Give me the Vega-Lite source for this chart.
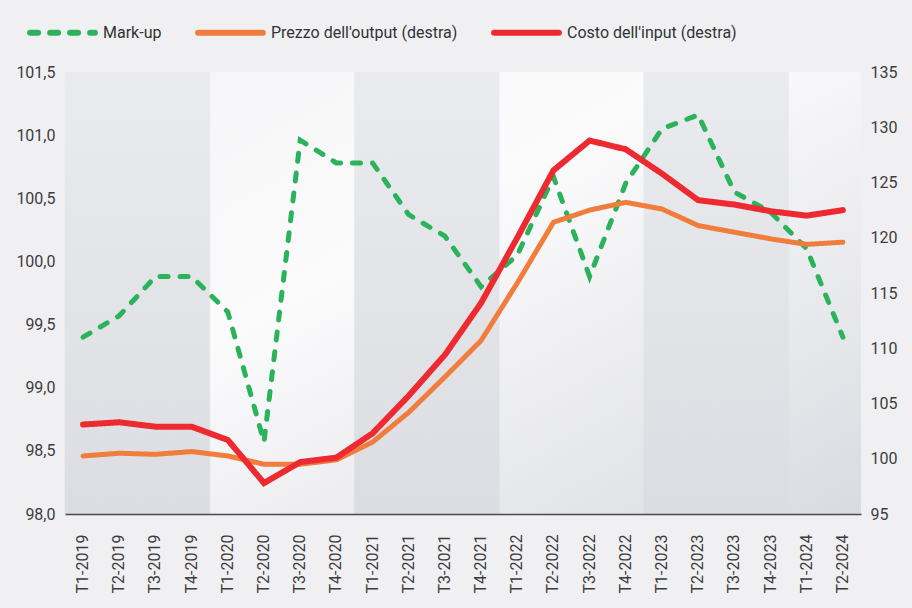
{
  "$schema": "https://vega.github.io/schema/vega-lite/v6.json",
  "autosize": {"type": "none"},
  "width": 796,
  "height": 442,
  "padding": {"left": 65, "top": 72, "right": 51, "bottom": 94},
  "background": "#f0f0f3",
  "config": {
    "locale": {"number": {"decimal": ",", "thousands": ".", "grouping": [3], "currency": ["€", ""]}},
    "font": "Roboto",
    "view": {"stroke": null},
    "axis": {"labelFont": "Roboto", "labelFontSize": 16, "labelColor": "#3d3d3d", "grid": false, "ticks": false, "title": null}
  },
  "view": {
    "stroke": null,
    "fill": {"gradient": "linear", "x1": 0, "y1": 0, "x2": 1, "y2": 1, "stops": [{"offset": 0, "color": "#f4f4f6"}, {"offset": 0.4, "color": "#fbfbfc"}, {"offset": 1, "color": "#dadbe1"}]}
  },
  "data": {"values": [
    {"t": "T1-2019", "serie": "Mark-up", "valore": 99.4},
    {"t": "T2-2019", "serie": "Mark-up", "valore": 99.57},
    {"t": "T3-2019", "serie": "Mark-up", "valore": 99.88},
    {"t": "T4-2019", "serie": "Mark-up", "valore": 99.88},
    {"t": "T1-2020", "serie": "Mark-up", "valore": 99.6},
    {"t": "T2-2020", "serie": "Mark-up", "valore": 98.57},
    {"t": "T3-2020", "serie": "Mark-up", "valore": 100.96},
    {"t": "T4-2020", "serie": "Mark-up", "valore": 100.78},
    {"t": "T1-2021", "serie": "Mark-up", "valore": 100.78},
    {"t": "T2-2021", "serie": "Mark-up", "valore": 100.37},
    {"t": "T3-2021", "serie": "Mark-up", "valore": 100.2},
    {"t": "T4-2021", "serie": "Mark-up", "valore": 99.8},
    {"t": "T1-2022", "serie": "Mark-up", "valore": 100.05},
    {"t": "T2-2022", "serie": "Mark-up", "valore": 100.67},
    {"t": "T3-2022", "serie": "Mark-up", "valore": 99.88},
    {"t": "T4-2022", "serie": "Mark-up", "valore": 100.62},
    {"t": "T1-2023", "serie": "Mark-up", "valore": 101.05},
    {"t": "T2-2023", "serie": "Mark-up", "valore": 101.16},
    {"t": "T3-2023", "serie": "Mark-up", "valore": 100.55},
    {"t": "T4-2023", "serie": "Mark-up", "valore": 100.39},
    {"t": "T1-2024", "serie": "Mark-up", "valore": 100.1},
    {"t": "T2-2024", "serie": "Mark-up", "valore": 99.4},
    {"t": "T1-2019", "serie": "Prezzo dell'output (destra)", "valore": 100.25},
    {"t": "T2-2019", "serie": "Prezzo dell'output (destra)", "valore": 100.5},
    {"t": "T3-2019", "serie": "Prezzo dell'output (destra)", "valore": 100.4},
    {"t": "T4-2019", "serie": "Prezzo dell'output (destra)", "valore": 100.65},
    {"t": "T1-2020", "serie": "Prezzo dell'output (destra)", "valore": 100.25},
    {"t": "T2-2020", "serie": "Prezzo dell'output (destra)", "valore": 99.5},
    {"t": "T3-2020", "serie": "Prezzo dell'output (destra)", "valore": 99.5},
    {"t": "T4-2020", "serie": "Prezzo dell'output (destra)", "valore": 99.9},
    {"t": "T1-2021", "serie": "Prezzo dell'output (destra)", "valore": 101.5},
    {"t": "T2-2021", "serie": "Prezzo dell'output (destra)", "valore": 104.2},
    {"t": "T3-2021", "serie": "Prezzo dell'output (destra)", "valore": 107.4},
    {"t": "T4-2021", "serie": "Prezzo dell'output (destra)", "valore": 110.7},
    {"t": "T1-2022", "serie": "Prezzo dell'output (destra)", "valore": 115.9},
    {"t": "T2-2022", "serie": "Prezzo dell'output (destra)", "valore": 121.4},
    {"t": "T3-2022", "serie": "Prezzo dell'output (destra)", "valore": 122.5},
    {"t": "T4-2022", "serie": "Prezzo dell'output (destra)", "valore": 123.2},
    {"t": "T1-2023", "serie": "Prezzo dell'output (destra)", "valore": 122.6},
    {"t": "T2-2023", "serie": "Prezzo dell'output (destra)", "valore": 121.1},
    {"t": "T3-2023", "serie": "Prezzo dell'output (destra)", "valore": 120.5},
    {"t": "T4-2023", "serie": "Prezzo dell'output (destra)", "valore": 119.9},
    {"t": "T1-2024", "serie": "Prezzo dell'output (destra)", "valore": 119.4},
    {"t": "T2-2024", "serie": "Prezzo dell'output (destra)", "valore": 119.6},
    {"t": "T1-2019", "serie": "Costo dell'input (destra)", "valore": 103.1},
    {"t": "T2-2019", "serie": "Costo dell'input (destra)", "valore": 103.3},
    {"t": "T3-2019", "serie": "Costo dell'input (destra)", "valore": 102.9},
    {"t": "T4-2019", "serie": "Costo dell'input (destra)", "valore": 102.9},
    {"t": "T1-2020", "serie": "Costo dell'input (destra)", "valore": 101.7},
    {"t": "T2-2020", "serie": "Costo dell'input (destra)", "valore": 97.8},
    {"t": "T3-2020", "serie": "Costo dell'input (destra)", "valore": 99.7},
    {"t": "T4-2020", "serie": "Costo dell'input (destra)", "valore": 100.1},
    {"t": "T1-2021", "serie": "Costo dell'input (destra)", "valore": 102.3},
    {"t": "T2-2021", "serie": "Costo dell'input (destra)", "valore": 105.7},
    {"t": "T3-2021", "serie": "Costo dell'input (destra)", "valore": 109.4},
    {"t": "T4-2021", "serie": "Costo dell'input (destra)", "valore": 114.1},
    {"t": "T1-2022", "serie": "Costo dell'input (destra)", "valore": 120.0},
    {"t": "T2-2022", "serie": "Costo dell'input (destra)", "valore": 126.1},
    {"t": "T3-2022", "serie": "Costo dell'input (destra)", "valore": 128.8},
    {"t": "T4-2022", "serie": "Costo dell'input (destra)", "valore": 128.0},
    {"t": "T1-2023", "serie": "Costo dell'input (destra)", "valore": 125.8},
    {"t": "T2-2023", "serie": "Costo dell'input (destra)", "valore": 123.4},
    {"t": "T3-2023", "serie": "Costo dell'input (destra)", "valore": 123.0},
    {"t": "T4-2023", "serie": "Costo dell'input (destra)", "valore": 122.4},
    {"t": "T1-2024", "serie": "Costo dell'input (destra)", "valore": 122.0},
    {"t": "T2-2024", "serie": "Costo dell'input (destra)", "valore": 122.5}
  ]},
  "layer": [
    {
      "data": {"values": [
        {"t": "T1-2019"}, {"t": "T2-2019"}, {"t": "T3-2019"}, {"t": "T4-2019"},
        {"t": "T1-2021"}, {"t": "T2-2021"}, {"t": "T3-2021"}, {"t": "T4-2021"},
        {"t": "T1-2023"}, {"t": "T2-2023"}, {"t": "T3-2023"}, {"t": "T4-2023"}
      ]},
      "mark": {
        "type": "rect",
        "fill": {"gradient": "linear", "x1": 0, "y1": 0, "x2": 0, "y2": 1, "stops": [{"offset": 0, "color": "#eaebee"}, {"offset": 1, "color": "#dcdde2"}]},
        "stroke": {"gradient": "linear", "x1": 0, "y1": 0, "x2": 0, "y2": 1, "stops": [{"offset": 0, "color": "#eaebee"}, {"offset": 1, "color": "#dcdde2"}]},
        "strokeWidth": 0.6
      },
      "encoding": {
        "x": {
          "field": "t", "type": "ordinal", "sort": null,
          "scale": {"type": "band", "paddingInner": 0, "paddingOuter": 0, "domain": ["T1-2019","T2-2019","T3-2019","T4-2019","T1-2020","T2-2020","T3-2020","T4-2020","T1-2021","T2-2021","T3-2021","T4-2021","T1-2022","T2-2022","T3-2022","T4-2022","T1-2023","T2-2023","T3-2023","T4-2023","T1-2024","T2-2024"]},
          "axis": {"labelAngle": -90, "labelPadding": 20, "domain": true, "domainColor": "#4a4a4a", "domainWidth": 1.5, "title": null}
        }
      }
    },
    {
      "transform": [{"filter": "datum.serie === 'Mark-up'"}],
      "mark": {"type": "line", "strokeWidth": 5, "strokeCap": "round"},
      "encoding": {
        "x": {"field": "t", "type": "ordinal", "sort": null, "bandPosition": 0.5},
        "y": {
          "field": "valore", "type": "quantitative",
          "scale": {"domain": [98, 101.5], "zero": false, "nice": false},
          "axis": {"orient": "left", "values": [98, 98.5, 99, 99.5, 100, 100.5, 101, 101.5], "format": ".1f", "domain": false, "labelPadding": 10}
        },
        "color": {"field": "serie", "type": "nominal", "sort": null,
          "scale": {"domain": ["Mark-up", "Prezzo dell'output (destra)", "Costo dell'input (destra)"], "range": ["#2bb35b", "#f07d3c", "#ec2a2f"]},
          "legend": {"title": null, "orient": "none", "legendX": -38, "legendY": -75, "direction": "horizontal", "symbolType": "stroke", "symbolSize": 4200, "symbolStrokeWidth": 6, "labelFont": "Roboto", "labelFontSize": 16, "labelColor": "#333333", "labelOffset": 5, "labelLimit": 400, "columnPadding": 24,
            "encode": {"symbols": {"update": {"strokeCap": {"value": "round"}}}}}
        },
        "strokeDash": {"field": "serie", "type": "nominal", "sort": null,
          "scale": {"domain": ["Mark-up", "Prezzo dell'output (destra)", "Costo dell'input (destra)"], "range": [[8, 12], [1, 0], [1, 0]]},
          "legend": {"title": null, "orient": "none", "legendX": -38, "legendY": -75, "direction": "horizontal", "symbolType": "stroke", "symbolSize": 4200, "symbolStrokeWidth": 6, "labelFont": "Roboto", "labelFontSize": 16, "labelColor": "#333333", "labelOffset": 5, "labelLimit": 400, "columnPadding": 24,
            "encode": {"symbols": {"update": {"strokeCap": {"value": "round"}}}}}
        }
      }
    },
    {
      "layer": [
        {
          "transform": [{"filter": "datum.serie === \"Prezzo dell'output (destra)\""}],
          "mark": {"type": "line", "strokeWidth": 5, "strokeCap": "round"},
          "encoding": {
            "x": {"field": "t", "type": "ordinal", "sort": null, "bandPosition": 0.5},
            "y": {"field": "valore", "type": "quantitative"},
            "color": {"field": "serie", "type": "nominal", "sort": null},
            "strokeDash": {"field": "serie", "type": "nominal", "sort": null}
          }
        },
        {
          "transform": [{"filter": "datum.serie === \"Costo dell'input (destra)\""}],
          "mark": {"type": "line", "strokeWidth": 6, "strokeCap": "round"},
          "encoding": {
            "x": {"field": "t", "type": "ordinal", "sort": null, "bandPosition": 0.5},
            "y": {
              "field": "valore", "type": "quantitative",
              "scale": {"domain": [95, 135], "zero": false, "nice": false},
              "axis": {"orient": "right", "values": [95, 100, 105, 110, 115, 120, 125, 130, 135], "domain": false, "labelPadding": 9}
            },
            "color": {"field": "serie", "type": "nominal", "sort": null},
            "strokeDash": {"field": "serie", "type": "nominal", "sort": null}
          }
        }
      ]
    }
  ],
  "resolve": {"scale": {"y": "independent"}, "axis": {"y": "independent"}}
}
